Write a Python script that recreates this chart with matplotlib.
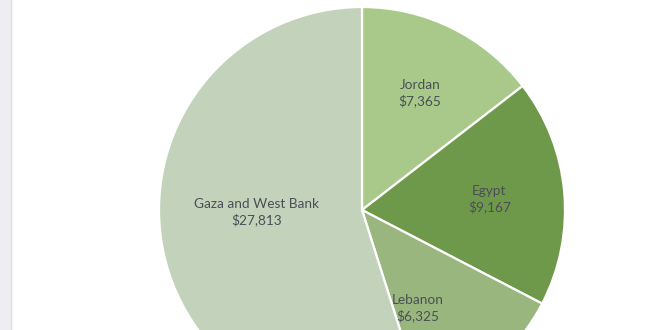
import matplotlib.pyplot as plt
import numpy as np

# Data
countries = ["Jordan", "Egypt", "Lebanon", "Gaza and West Bank"]
amounts = [7365, 9167, 6325, 27813]
colors = ["#a9c98b", "#6f994a", "#9ab67f", "#c3d3bb"]

plt.rcParams['font.family'] = ['Lato', 'DejaVu Sans']

fig = plt.figure(figsize=(6.6, 3.3), dpi=100)
ax = fig.add_axes([0, 0, 1, 1])

# left grey strip
ax.axvspan(0, 11, color="#eeeef2", zorder=0)
ax.axvline(11, color="#dedee3", lw=1, zorder=0)

labels = [f"{c}\n${v:,}" for c, v in zip(countries, amounts)]
wedges, texts = ax.pie(amounts, colors=colors, labels=labels, startangle=90,
                       counterclock=False, center=(362, 120), radius=203,
                       labeldistance=0.63, frame=True,
                       wedgeprops=dict(edgecolor="white", linewidth=1.6),
                       textprops=dict(color="#4a4f55", fontsize=9.8,
                                      ha="center", va="center",
                                      multialignment="center", linespacing=1.3))
ax.set_xlim(0, 660)
ax.set_ylim(0, 330)
ax.axis('off')

# nudge labels like the original
texts[0].set_position((420, 237))
texts[2].set_position((418, 22))
texts[3].set_position((257, 118))

fig.savefig("out.png", dpi=100)
